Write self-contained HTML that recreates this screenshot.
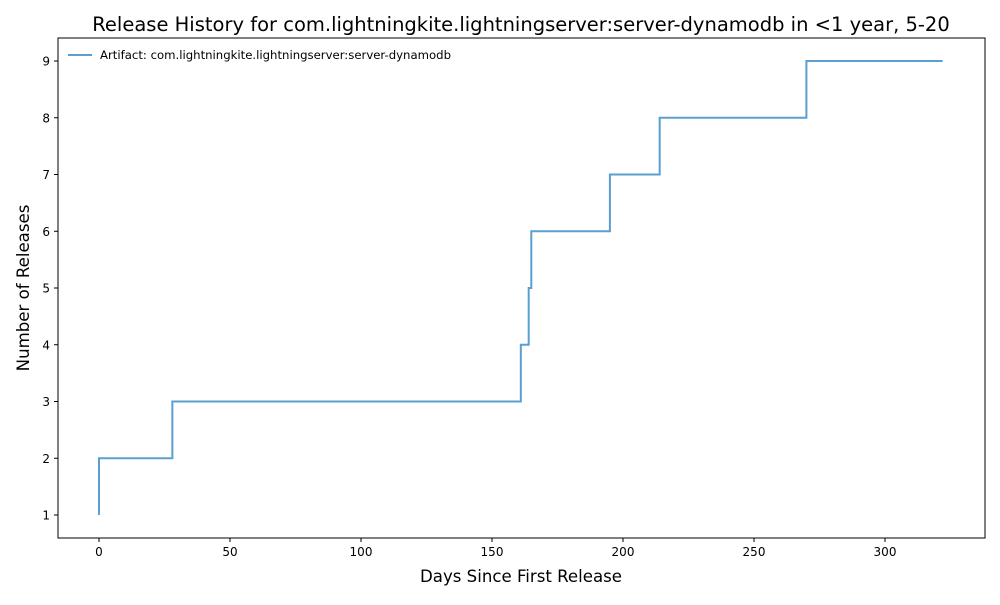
<!DOCTYPE html>
<html><head><meta charset="utf-8"><style>
body{margin:0;background:#fff;width:1000px;height:600px;overflow:hidden;font-family:"Liberation Sans","DejaVu Sans",sans-serif}
</style></head><body>
<svg id="chart" width="1000" height="600" xmlns="http://www.w3.org/2000/svg" font-family="DejaVu Sans, Liberation Sans, sans-serif">
<rect width="1000" height="600" fill="#fff"/>
<text x="521" y="31" font-size="19.5" text-anchor="middle">Release History for com.lightningkite.lightningserver:server-dynamodb in &lt;1 year, 5-20</text>
<g id="axes"></g>
<rect x="58" y="38" width="927" height="500" fill="none" stroke="#000" stroke-width="1"/>
<text x="521" y="582" font-size="16.6" text-anchor="middle">Days Since First Release</text>
<text transform="translate(29,288) rotate(-90)" font-size="16.6" text-anchor="middle">Number of Releases</text>
<g>
<line x1="68" y1="55" x2="92" y2="55" stroke="#5a9fd0" stroke-width="2"/>
<text x="100" y="59" font-size="11.7">Artifact: com.lightningkite.lightningserver:server-dynamodb</text>
</g>
</svg>
<script>
const days = [0, 0, 28, 161, 164, 165, 195, 214, 270, 322];
const releases = [1, 2, 3, 4, 5, 6, 7, 8, 9, 9];
const xTicks = [0, 50, 100, 150, 200, 250, 300];
const yTicks = [1, 2, 3, 4, 5, 6, 7, 8, 9];
const NS = "http://www.w3.org/2000/svg";
const xs = d => 99 + d * 2.62;
const ys = v => 515 - (v - 1) * 56.75;
const svg = document.getElementById('chart');
const axes = document.getElementById('axes');
function mk(tag, attrs, parent){const e=document.createElementNS(NS,tag);for(const k in attrs)e.setAttribute(k,attrs[k]);parent.appendChild(e);return e;}
xTicks.forEach(t=>{
  const g=mk('g',{},axes);
  
  
  mk('line',{x1:xs(t),x2:xs(t),y1:538,y2:542,stroke:'#000'},g);
  const tx=mk('text',{x:xs(t),y:556,'font-size':12,'text-anchor':'middle'},g);tx.textContent=t;
});
yTicks.forEach(t=>{
  const g=mk('g',{},axes);
  
  
  mk('line',{x1:54,x2:58,y1:ys(t),y2:ys(t),stroke:'#000'},g);
  const tx=mk('text',{x:50,y:ys(t)+4.5,'font-size':12,'text-anchor':'end'},g);tx.textContent=t;
});
let d='M'+xs(days[0])+','+ys(releases[0]);
for(let i=1;i<days.length;i++){d+=' H'+xs(days[i])+' V'+ys(releases[i]);}
const p=mk('path',{d:d,fill:'none',stroke:'#5a9fd0','stroke-width':2},svg);


</script>
</body></html>
